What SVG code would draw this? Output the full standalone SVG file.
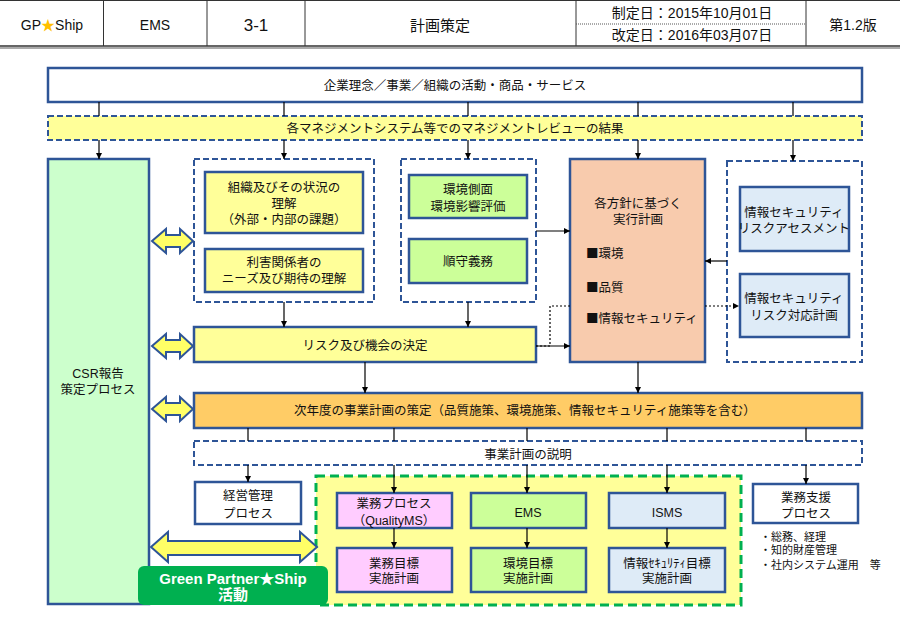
<svg xmlns="http://www.w3.org/2000/svg" width="900" height="623" viewBox="0 0 900 623">
<defs>
<marker id="ah" viewBox="0 0 10 10" refX="10" refY="5" markerWidth="6" markerHeight="6" orient="auto" markerUnits="userSpaceOnUse">
<path d="M0,0 L10,5 L0,10 z" fill="#000"/>
</marker>
<style>
text{font-family:"Liberation Sans","Noto Sans CJK JP",sans-serif;font-size:12.5px;fill:#111;text-anchor:middle}
.hd{font-size:14px}
.box{stroke:#2E5597;stroke-width:2.5}
.dash{fill:none;stroke:#2E5597;stroke-width:2;stroke-dasharray:6,3}
.ln{stroke:#000;stroke-width:1.2;fill:none}
.ar{stroke:#000;stroke-width:1.2;fill:none;marker-end:url(#ah)}
.dot{stroke:#000;stroke-width:1.2;fill:none;stroke-dasharray:2,2}
.dbl{fill:#FFFF66;stroke:#2E5597;stroke-width:2;stroke-linejoin:miter}
.l{text-anchor:start}
.sq{font-family:"Noto Sans CJK JP",sans-serif}
.note{font-size:11px;text-anchor:start}
.gp{font-size:15px;font-weight:bold;fill:#fff}
</style>
</defs>
<rect width="900" height="623" fill="#fff"/>
<!-- header -->
<g id="header">
<line x1="0" y1="0.5" x2="900" y2="0.5" stroke="#333" stroke-width="1"/>
<line x1="0" y1="46" x2="900" y2="46" stroke="#333" stroke-width="1.5"/>
<line x1="0" y1="48" x2="900" y2="48" stroke="#aaa" stroke-width="2"/>
<g stroke="#333" stroke-width="1">
<line x1="103.5" y1="0" x2="103.5" y2="46"/>
<line x1="207" y1="0" x2="207" y2="46"/>
<line x1="305" y1="0" x2="305" y2="46"/>
<line x1="576" y1="0" x2="576" y2="46"/>
<line x1="806" y1="0" x2="806" y2="46"/>
</g>
<line x1="576" y1="24" x2="806" y2="24" stroke="#555" stroke-width="1" stroke-dasharray="1,1"/>
<text class="hd" x="52" y="30">GP<tspan fill="#FFC000">★</tspan>Ship</text>
<text class="hd" x="155" y="30">EMS</text>
<text x="256" y="31" style="font-size:17px">3-1</text>
<text x="440" y="31" style="font-size:15px">計画策定</text>
<text class="hd" x="692" y="18">制定日：2015年10月01日</text>
<text class="hd" x="692" y="40">改定日：2016年03月07日</text>
<text class="hd" x="853" y="30">第1.2版</text>
</g>
<!-- nodes -->
<g id="n-top"><rect class="box" x="48" y="68" width="814" height="34" fill="#fff"/><text x="455" y="89.5">企業理念／事業／組織の活動・商品・サービス</text></g>
<g id="n-review"><rect x="48" y="116" width="814" height="24" fill="#FFFF99"/><rect class="dash" x="48" y="116" width="814" height="24"/><text x="455" y="132.5">各マネジメントシステム等でのマネジメントレビューの結果</text></g>
<g id="n-csr"><rect class="box" x="48" y="159" width="101" height="445" fill="#CCFFCC"/><text x="98" y="378">CSR報告<tspan x="98" dy="15.5">策定プロセス</tspan></text></g>
<g id="g-context"><rect class="dash" x="194" y="159" width="180" height="143"/></g>
<g id="n-org"><rect class="box" x="205" y="172" width="158" height="61" fill="#FFFF99"/><text x="284" y="191.5">組織及びその状況の<tspan x="284" dy="16.2">理解</tspan><tspan x="284" dy="16.5">（外部・内部の課題）</tspan></text></g>
<g id="n-stake"><rect class="box" x="205" y="249" width="158" height="43" fill="#FFFF99"/><text x="284" y="266.5">利害関係者の<tspan x="284" dy="16">ニーズ及び期待の理解</tspan></text></g>
<g id="g-env"><rect class="dash" x="401" y="159" width="135" height="143"/></g>
<g id="n-aspect"><rect class="box" x="409" y="175" width="118" height="43" fill="#CCFF99"/><text x="468" y="193.5">環境側面<tspan x="468" dy="17">環境影響評価</tspan></text></g>
<g id="n-comp"><rect class="box" x="409" y="239" width="118" height="44" fill="#CCFF99"/><text x="468" y="266">順守義務</text></g>
<g id="n-plan"><rect class="box" x="570" y="159" width="135" height="203" fill="#F8CBAD"/><text x="638" y="207.5">各方針に基づく<tspan x="638" dy="16">実行計画</tspan></text><text class="l" x="586" y="257.5"><tspan class="sq">■</tspan>環境</text><text class="l" x="586" y="291.5"><tspan class="sq">■</tspan>品質</text><text class="l" x="586" y="322.5"><tspan class="sq">■</tspan>情報セキュリティ</text></g>
<g id="g-isec"><rect class="dash" x="727" y="161" width="135" height="201"/></g>
<g id="n-assess"><rect class="box" x="740" y="187" width="109" height="64" fill="#DEEBF7"/><text x="794" y="216.5">情報セキュリティ<tspan x="794" dy="16">リスクアセスメント</tspan></text></g>
<g id="n-treat"><rect class="box" x="740" y="274" width="109" height="63" fill="#DEEBF7"/><text x="794" y="302.5">情報セキュリティ<tspan x="794" dy="17">リスク対応計画</tspan></text></g>
<g id="n-risk"><rect class="box" x="194" y="327" width="342" height="35" fill="#FFFF99"/><text x="365" y="349.5">リスク及び機会の決定</text></g>
<g id="n-next"><rect class="box" x="194" y="393" width="668" height="35" fill="#FFCC66"/><text x="525" y="414.5">次年度の事業計画の策定（品質施策、環境施策、情報セキュリティ施策等を含む）</text></g>
<g id="n-explain"><rect class="dash" x="194" y="441" width="668" height="24"/><text x="528" y="458.5">事業計画の説明</text></g>
<g id="n-mgmt"><rect class="box" x="195" y="482" width="106" height="42" fill="#fff"/><text x="248" y="499.5">経営管理<tspan x="248" dy="18">プロセス</tspan></text></g>
<g id="g-gp"><rect x="316" y="476" width="425" height="129" fill="#FFFF99" stroke="#00B050" stroke-width="3" stroke-dasharray="9,5"/></g>
<g id="n-bp"><rect class="box" x="337" y="493" width="115" height="35" fill="#FFCCFF"/><text x="394" y="507.5">業務プロセス<tspan x="394" dy="17">（QualityMS）</tspan></text></g>
<g id="n-bt"><rect class="box" x="337" y="548" width="115" height="44" fill="#FFCCFF"/><text x="394" y="567.5">業務目標<tspan x="394" dy="15.5">実施計画</tspan></text></g>
<g id="n-ems"><rect class="box" x="471" y="493" width="115" height="35" fill="#CCFF99"/><text x="528" y="516.5">EMS</text></g>
<g id="n-et"><rect class="box" x="471" y="548" width="115" height="44" fill="#CCFF99"/><text x="528" y="567.5">環境目標<tspan x="528" dy="15.5">実施計画</tspan></text></g>
<g id="n-isms"><rect class="box" x="609" y="493" width="116" height="35" fill="#DEEBF7"/><text x="667" y="516.5">ISMS</text></g>
<g id="n-it"><rect class="box" x="609" y="548" width="116" height="44" fill="#DEEBF7"/><text x="667" y="567.5">情報ｾｷｭﾘﾃｨ目標<tspan x="667" dy="15.5">実施計画</tspan></text></g>
<g id="n-support"><rect class="box" x="753" y="484" width="105" height="39" fill="#fff"/><text x="806" y="501.5">業務支援<tspan x="806" dy="16">プロセス</tspan></text></g>
<g id="n-notes"><text class="note" x="760" y="541">・総務、経理<tspan x="760" dy="13">・知的財産管理</tspan><tspan x="760" dy="15">・社内システム運用　等</tspan></text></g>
<g id="n-gpa"><rect x="138" y="566" width="190" height="39" rx="6" fill="#00B050"/><text class="gp" x="233" y="583.5">Green Partner★Ship<tspan x="233" dy="16">活動</tspan></text></g>
<!-- connectors -->
<g id="connectors">
<path class="ln" d="M99,102V116M284,102V116M468,102V116M638,102V116M793,102V116"/>
<path class="ar" d="M99,140V159"/><path class="ar" d="M284,140V159"/><path class="ar" d="M468,140V159"/><path class="ar" d="M638,140V159"/><path class="ar" d="M793,140V161"/>
<path class="ar" d="M284,302V327"/><path class="ar" d="M468,302V327"/>
<path class="ar" d="M536,231H570"/>
<path class="ar" d="M727,261H705"/>
<path class="dot" d="M705,306H734"/><path d="M733,303L739,306L733,309z" fill="#000"/>
<path class="dot" d="M536,346H550V306H570"/>
<path class="ar" d="M536,346H570"/>
<path class="ar" d="M365,362V393"/><path class="ar" d="M638,362V393"/>
<path class="ln" d="M248,428V441M394,428V441M527,428V441M667,428V441M806,428V441"/>
<path class="ar" d="M248,465V482"/><path class="ar" d="M394,465V493"/><path class="ar" d="M527,465V493"/><path class="ar" d="M667,465V493"/><path class="ar" d="M806,465V484"/>
<path class="ar" d="M394,528V548"/><path class="ar" d="M527,528V548"/><path class="ar" d="M667,528V548"/>
<path class="dbl" d="M152,241L166,229V235H180V229L193,241L180,253V247H166V253Z"/>
<path class="dbl" d="M152,346L166,334V340H180V334L193,346L180,358V352H166V358Z"/>
<path class="dbl" d="M152,409L166,397V403H180V397L193,409L180,421V415H166V421Z"/>
<path class="dbl" d="M151,547L168,532V541H300V532L317,547L300,562V555H168V562Z"/>
</g>
</svg>
